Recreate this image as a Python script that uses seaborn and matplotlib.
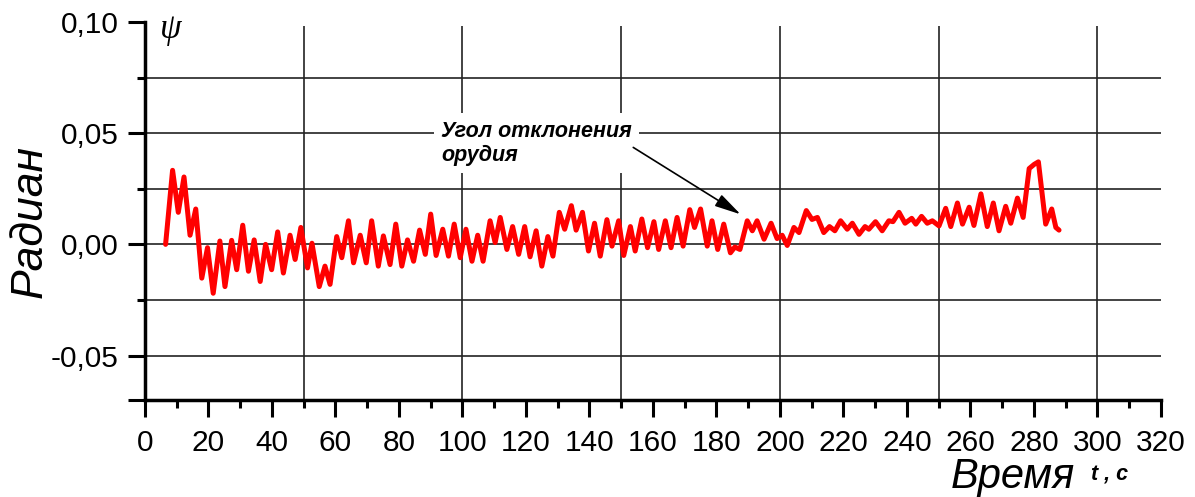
import matplotlib
matplotlib.use("Agg")
import matplotlib.pyplot as plt
import seaborn as sns
import pandas as pd

# gun deflection angle (peaks and troughs)
time_s = [
    6.5, 8.7, 10.5, 12.3, 14.2, 16.0, 17.9, 19.7, 21.5, 23.6, 25.2, 27.3, 28.9,
    30.8, 32.6, 34.4, 36.3, 38.0, 39.9, 41.8, 43.6, 45.7, 47.3, 49.1, 51.2,
    52.6, 54.9, 56.7, 58.3, 60.4, 62.0, 64.1, 65.7, 67.8, 69.7, 71.4, 73.5,
    75.1, 77.2, 79.0, 80.9, 82.7, 84.6, 86.5, 88.3, 90.0, 91.7, 93.8, 95.6,
    97.4, 99.3, 101.1, 103.0, 104.8, 106.5, 108.7, 110.3, 111.9, 114.0, 115.8,
    117.7, 119.6, 121.3, 123.2, 125.0, 126.9, 128.5, 130.5, 132.2, 134.3,
    135.8, 137.8, 139.7, 141.6, 143.4, 145.5, 147.1, 149.2, 150.8, 152.9,
    154.4, 156.5, 158.3, 160.3, 161.8, 163.9, 165.7, 167.6, 169.5, 171.6,
    173.1, 175.0, 177.1, 178.6, 180.4, 182.3, 184.4, 185.8, 187.4, 189.7,
    191.3, 192.8, 195.0, 197.2, 199.1, 200.7, 202.3, 204.4, 206.0, 208.3,
    210.1, 211.8, 213.8, 215.6, 217.3, 219.1, 221.2, 222.8, 224.9, 226.8,
    228.0, 230.1, 232.2, 234.3, 235.6, 237.5, 239.4, 241.5, 242.8, 244.6,
    246.4, 248.0, 250.1, 252.2, 253.8, 255.9, 257.5, 259.6, 261.1, 263.3,
    265.3, 267.2, 269.0, 271.1, 272.7, 274.8, 276.6, 278.5, 280.1, 281.4,
    283.7, 285.6, 286.9, 287.9,
]
psi_rad = [
    0.0, 0.0333, 0.0144, 0.0303, 0.0041, 0.0159, -0.0152, -0.0015, -0.0220,
    0.0015, -0.0190, 0.0018, -0.0114, 0.0086, -0.0121, 0.0020, -0.0167, 0.0000,
    -0.0114, 0.0056, -0.0129, 0.0041, -0.0068, 0.0076, -0.0106, 0.0005,
    -0.0190, -0.0098, -0.0180, 0.0035, -0.0060, 0.0106, -0.0083, 0.0041,
    -0.0083, 0.0106, -0.0098, 0.0038, -0.0091, 0.0091, -0.0098, 0.0020,
    -0.0076, 0.0064, -0.0045, 0.0136, -0.0050, 0.0068, -0.0053, 0.0091,
    -0.0060, 0.0068, -0.0076, 0.0041, -0.0076, 0.0106, 0.0008, 0.0121,
    -0.0023, 0.0080, -0.0045, 0.0080, -0.0056, 0.0061, -0.0098, 0.0035,
    -0.0053, 0.0144, 0.0068, 0.0174, 0.0064, 0.0144, -0.0030, 0.0095,
    -0.0053, 0.0111, -0.0008, 0.0106, -0.0050, 0.0080, -0.0030, 0.0114,
    -0.0015, 0.0102, -0.0023, 0.0106, -0.0015, 0.0121, -0.0008, 0.0156,
    0.0076, 0.0159, -0.0008, 0.0106, -0.0023, 0.0091, -0.0038, -0.0012,
    -0.0023, 0.0106, 0.0061, 0.0106, 0.0023, 0.0095, 0.0026, 0.0041,
    -0.0005, 0.0076, 0.0053, 0.0152, 0.0112, 0.0121, 0.0053, 0.0080,
    0.0061, 0.0106, 0.0068, 0.0095, 0.0045, 0.0080, 0.0068, 0.0102,
    0.0061, 0.0106, 0.0102, 0.0144, 0.0095, 0.0117, 0.0091, 0.0126,
    0.0095, 0.0106, 0.0083, 0.0162, 0.0080, 0.0186, 0.0091, 0.0167,
    0.0085, 0.0227, 0.0080, 0.0186, 0.0061, 0.0171, 0.0095, 0.0208,
    0.0121, 0.0341, 0.0360, 0.0371, 0.0091, 0.0159, 0.0076, 0.0064,
]

x_major = list(range(0, 321, 20))
x_minor = list(range(10, 320, 20))
y_major = [-0.07, -0.05, 0.0, 0.05, 0.10]
y_major_labels = ["", "-0,05", "0,00", "0,05", "0,10"]
y_minor = [-0.025, 0.025, 0.075]
grid_x = [50, 100, 150, 200, 250, 300]
grid_y = [-0.05, -0.025, 0.0, 0.025, 0.05, 0.075]

sns.set_style("white")
plt.rcParams["font.family"] = ["Liberation Sans", "DejaVu Sans"]
plt.rcParams["text.color"] = "black"

df = pd.DataFrame({"t": time_s, "psi": psi_rad})

fig = plt.figure(figsize=(11.95, 4.97), dpi=100)
ax = fig.add_axes([0.1213, 0.1952, 0.8502, 0.7605])

# grid drawn by hand: vertical every 50 s, horizontal every 0.025
ax.hlines(grid_y, 0, 320, color="#222222", lw=1.2, zorder=1)
ax.vlines(grid_x, -0.07, 0.098, color="#222222", lw=1.2, zorder=1)

sns.lineplot(data=df, x="t", y="psi", ax=ax, color="#ff0000", lw=3.6,
             estimator=None, sort=False, zorder=3,
             solid_joinstyle="round", solid_capstyle="round")

ax.set_xlim(0, 320)
ax.set_ylim(-0.07, 0.10)
ax.set_xticks(x_major)
ax.set_xticks(x_minor, minor=True)
ax.set_yticks(y_major)
ax.set_yticklabels(y_major_labels)
ax.set_yticks(y_minor, minor=True)
ax.set_xlabel("")
ax.set_ylabel("")

for side in ["top", "right"]:
    ax.spines[side].set_visible(False)
for side in ["left", "bottom"]:
    ax.spines[side].set_color("black")
    ax.spines[side].set_linewidth(2.5)

ax.tick_params(which="both", bottom=True, left=True, direction="out",
               colors="black", width=2.2)
ax.tick_params(which="major", length=12, labelsize=21.5)
ax.tick_params(which="minor", length=6)
ax.tick_params(axis="x", which="major", pad=9)
ax.tick_params(axis="y", which="major", pad=7)

# axis titles
fig.text(30 / 1195, 1 - 222 / 497, "Радиан", rotation=90, ha="center",
         va="center", fontsize=32, style="italic")
fig.text(1013 / 1195, 1 - 477 / 497, "Время", ha="center", va="center",
         fontsize=30, style="italic")
fig.text(1091 / 1195, 1 - 481 / 497, "t , c", ha="left", va="baseline",
         fontsize=15.5, weight="bold", style="italic")
fig.text(171 / 1195, 1 - 29 / 497, "ψ", ha="center", va="center",
         fontsize=25, style="italic", family=["Liberation Serif", "DejaVu Serif"])

# callout
ax.text(93.3, 0.0557, "Угол отклонения\nорудия", ha="left", va="top",
        fontsize=15.5, weight="bold", style="italic", zorder=4,
        bbox=dict(facecolor="white", edgecolor="none", boxstyle="square,pad=0.35"))
ax.annotate("", xy=(187.6, 0.0135), xytext=(153.8, 0.0436), zorder=4,
            arrowprops=dict(arrowstyle="-|>,head_length=0.8,head_width=0.2",
                            color="black", lw=1.2, shrinkA=0, shrinkB=0,
                            mutation_scale=20))

fig.savefig("out.png", dpi=100)
